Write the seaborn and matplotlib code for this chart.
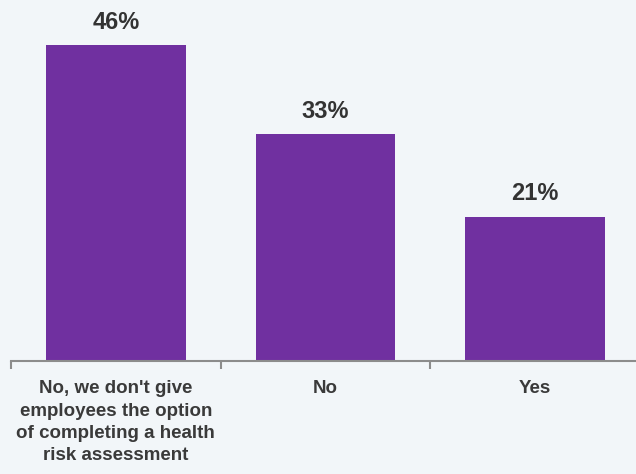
import matplotlib
matplotlib.use("Agg")
import matplotlib.pyplot as plt
import seaborn as sns
import pandas as pd

# Survey answers and share of respondents (%)
categories = [
    "No, we don't give\nemployees the option\nof completing a health\nrisk assessment",
    "No",
    "Yes",
]
values = [46, 33, 21]
value_labels = ["46%", "33%", "21%"]

bg = "#F2F6F9"
purple = "#7030A0"
axis_gray = "#8C8C8C"
text_gray = "#333333"

sns.set_style("white")
plt.rcParams["font.family"] = ["Liberation Sans", "DejaVu Sans"]

df = pd.DataFrame({"answer": categories, "share": values})

fig = plt.figure(figsize=(6.36, 4.74), dpi=100)
fig.patch.set_facecolor(bg)
ax = fig.add_axes([0.0173, 0.2384, 0.9890, 0.7616])
ax.set_facecolor(bg)

sns.barplot(data=df, x="answer", y="share", color=purple, width=0.665,
            saturation=1, linewidth=0, ax=ax)

ax.set_xlim(-0.5, 2.5)
ax.set_ylim(0, 52.5)

ax.bar_label(ax.containers[0], labels=value_labels, padding=8,
             fontsize=17, fontweight="bold", color=text_gray)

for side in ["left", "right", "top"]:
    ax.spines[side].set_visible(False)
ax.spines["bottom"].set_color(axis_gray)
ax.spines["bottom"].set_linewidth(1.5)

ax.set_yticks([])
ax.set_xlabel("")
ax.set_ylabel("")
ax.set_xticks(range(len(categories)))
ax.set_xticklabels(categories, fontsize=13.5, fontweight="bold",
                   color="#3a3a3a", linespacing=1.4, va="top")
ax.tick_params(axis="x", which="major", length=0, pad=14)
ax.set_xticks([-0.5, 0.5, 1.5, 2.5], minor=True)
ax.tick_params(axis="x", which="minor", bottom=True, length=6, width=1.5,
               color=axis_gray, direction="out")

fig.savefig("out.png", dpi=100, facecolor=bg)
